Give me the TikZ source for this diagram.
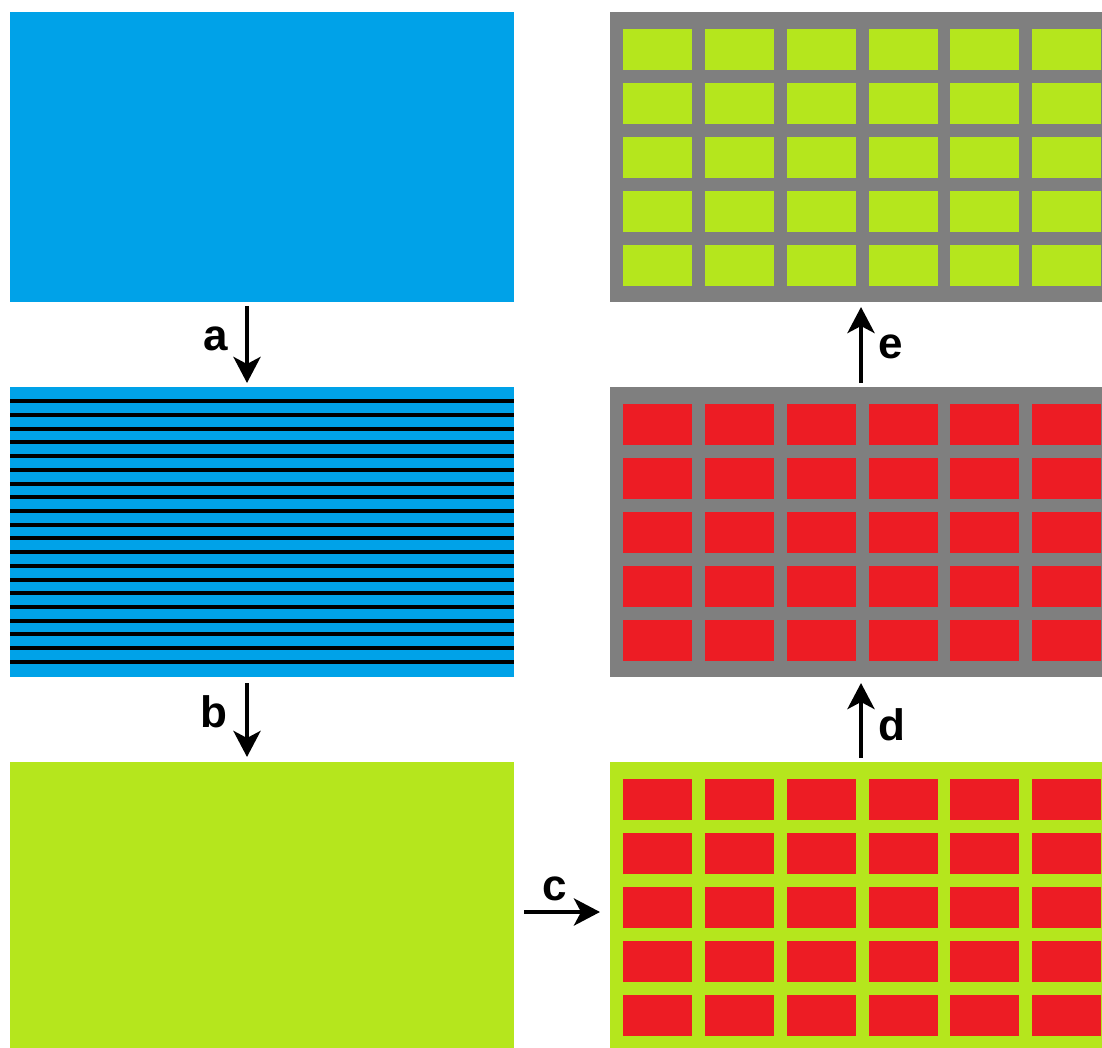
\documentclass[tikz,border=0pt]{standalone}
\usepackage{fontspec}
\setmainfont{Liberation Sans}
\definecolor{pblue}{RGB}{0,162,232}
\definecolor{pgreen}{RGB}{181,230,29}
\definecolor{pred}{RGB}{237,28,36}
\definecolor{pgray}{RGB}{127,127,127}
\usetikzlibrary{arrows.meta,positioning}

\tikzset{
  panel/.style={minimum width=504pt, minimum height=290pt, inner sep=0pt, outer sep=0pt},
  cell/.style={minimum width=69pt, minimum height=41pt, inner sep=0pt, anchor=north west},
  stripe/.style={line width=4pt, black},
  flow/.style={-{Stealth[length=26pt,width=27pt,inset=7pt]}, line width=4.5pt},
  tag/.style={font=\fontsize{44}{50}\selectfont\bfseries, inner sep=0pt},
}

\begin{document}
\begin{tikzpicture}[x=1pt, y=-1pt]
  \useasboundingbox (0,0) rectangle (1102,1048);
  \clip (0,0) rectangle (1102,1048);

  %% left column
  \node[panel, fill=pblue]  (film)   at (262,157) {};
  \node[panel, fill=pblue]  (lines)  at (262,532) {};
  \node[panel, fill=pgreen] (layer)  at (262,907) {};
  \foreach \k in {0,...,19}
    \draw[stripe] ([shift={(0,14.3+13.71*\k)}]lines.north west) -- ([shift={(0,14.3+13.71*\k)}]lines.north east);

  %% right column
  \node[panel, fill=pgray]  (mesh)   at (862,157) {};
  \node[panel, fill=pgray]  (filled) at (862,532) {};
  \node[panel, fill=pgreen] (dots)   at (862,907) {};
  \foreach \i in {0,...,5}
    \foreach \j in {0,...,4} {
      \node[cell, fill=pgreen] (m-\i-\j) at ([shift={(13+81.8*\i,17+54*\j)}]mesh.north west) {};
      \node[cell, fill=pred]   (f-\i-\j) at ([shift={(13+81.8*\i,17+54*\j)}]filled.north west) {};
      \node[cell, fill=pred]   (d-\i-\j) at ([shift={(13+81.8*\i,17+54*\j)}]dots.north west) {};
    }

  %% steps
  \draw[flow] ([shift={(-15,4)}]film.south) -- ([shift={(-15,-4)}]lines.north)
    node[midway, tag, left=17pt, yshift=6pt] (la) {a};
  \draw[flow] ([shift={(-15,6)}]lines.south) -- ([shift={(-15,-5)}]layer.north)
    node[midway, tag, left=17pt, yshift=8pt] (lb) {b};
  \draw[flow] ([shift={(10,5)}]layer.east) -- ([shift={(-10,5)}]dots.west)
    node[midway, tag, above=9pt, xshift=-7pt] (lc) {c};
  \draw[flow] ([shift={(-1,-4)}]dots.north) -- ([shift={(-1,6)}]filled.south)
    node[midway, tag, right=15pt, yshift=-4pt] (ld) {d};
  \draw[flow] ([shift={(-1,-4)}]filled.north) -- ([shift={(-1,5)}]mesh.south)
    node[midway, tag, right=15pt, yshift=-2pt] (le) {e};
\end{tikzpicture}
\end{document}
